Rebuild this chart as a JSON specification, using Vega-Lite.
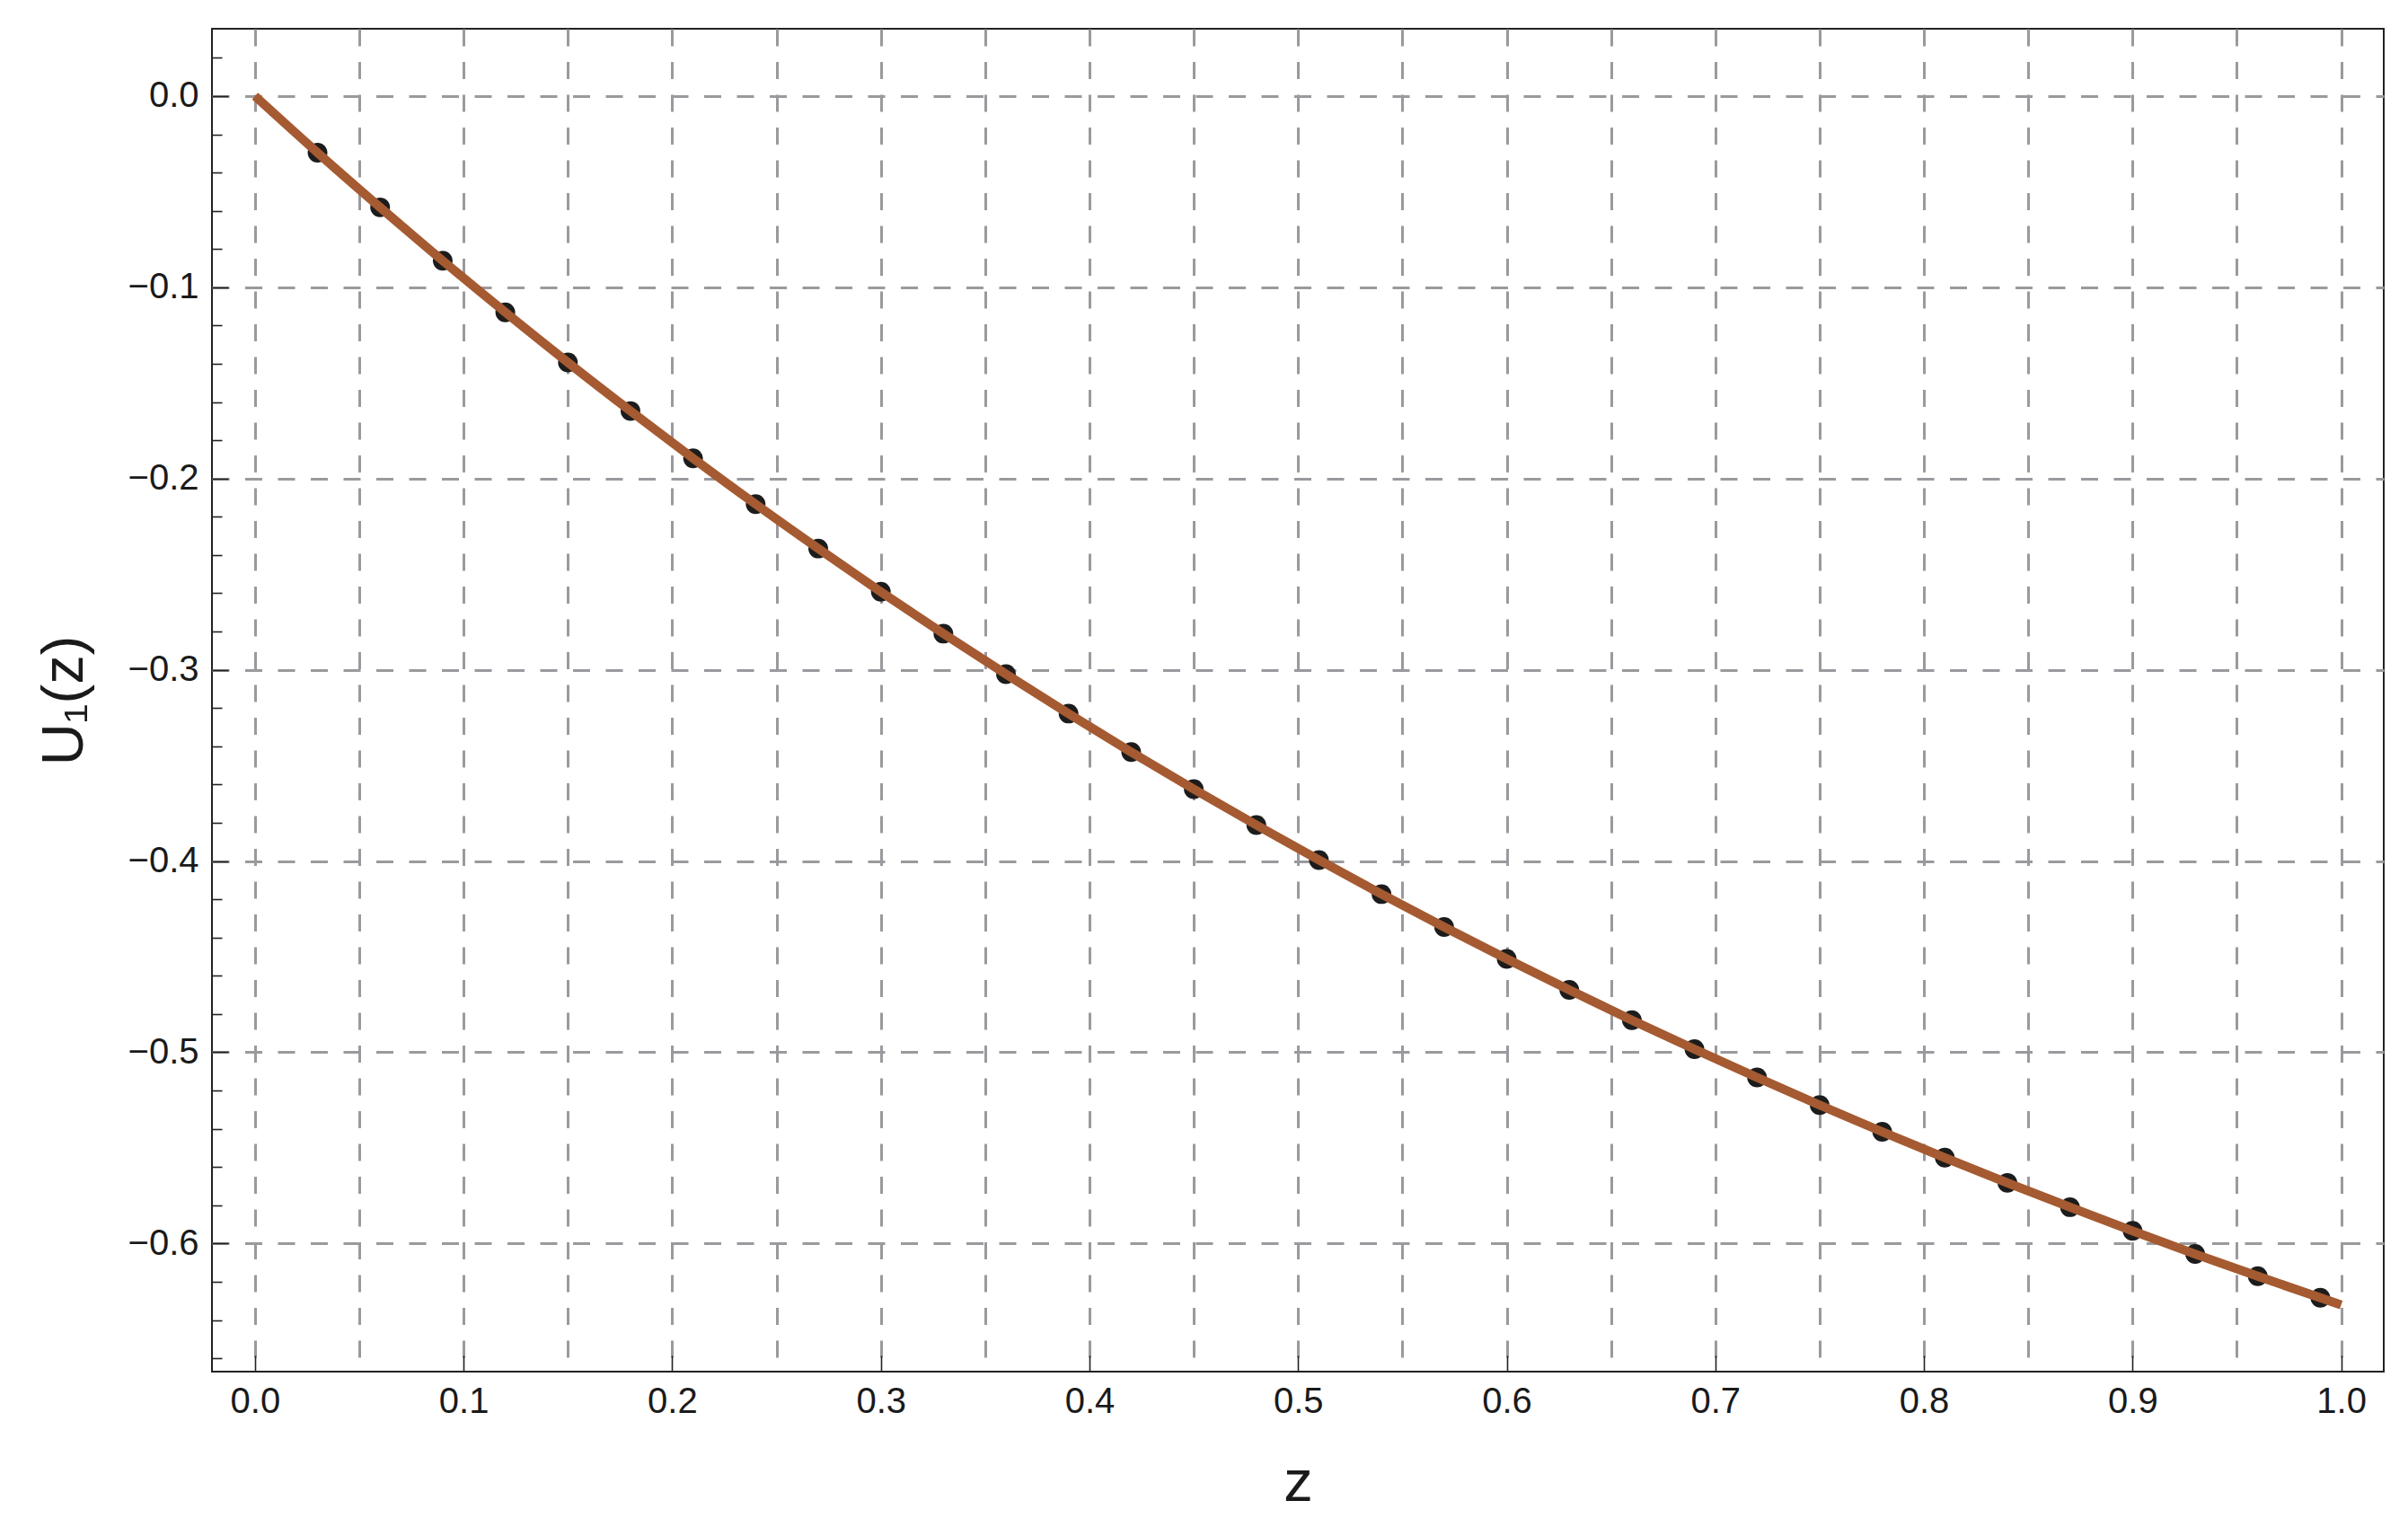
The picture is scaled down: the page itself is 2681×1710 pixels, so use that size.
{
  "$schema": "https://vega.github.io/schema/vega-lite/v6.json",
  "autosize": "none",
  "width": 2418,
  "height": 1495,
  "padding": {"left": 236, "top": 32, "right": 27, "bottom": 183},
  "background": "white",
  "datasets": {
    "dots": [
      {"z": 0.03, "u": -0.0296}, {"z": 0.06, "u": -0.0582}, {"z": 0.09, "u": -0.0861},
      {"z": 0.12, "u": -0.1131}, {"z": 0.15, "u": -0.1393}, {"z": 0.18, "u": -0.1647},
      {"z": 0.21, "u": -0.1894}, {"z": 0.24, "u": -0.2134}, {"z": 0.27, "u": -0.2366},
      {"z": 0.30, "u": -0.2592}, {"z": 0.33, "u": -0.2811}, {"z": 0.36, "u": -0.3023},
      {"z": 0.39, "u": -0.3229}, {"z": 0.42, "u": -0.3430}, {"z": 0.45, "u": -0.3624},
      {"z": 0.48, "u": -0.3812}, {"z": 0.51, "u": -0.3995}, {"z": 0.54, "u": -0.4173},
      {"z": 0.57, "u": -0.4345}, {"z": 0.60, "u": -0.4512}, {"z": 0.63, "u": -0.4674},
      {"z": 0.66, "u": -0.4832}, {"z": 0.69, "u": -0.4984}, {"z": 0.72, "u": -0.5132},
      {"z": 0.75, "u": -0.5276}, {"z": 0.78, "u": -0.5416}, {"z": 0.81, "u": -0.5551},
      {"z": 0.84, "u": -0.5683}, {"z": 0.87, "u": -0.5810}, {"z": 0.90, "u": -0.5934},
      {"z": 0.93, "u": -0.6055}, {"z": 0.96, "u": -0.6171}, {"z": 0.99, "u": -0.6284}
    ],
    "curve": [
      {"z": 0.0, "u": 0.0},
      {"z": 0.03, "u": -0.0296}, {"z": 0.06, "u": -0.0582}, {"z": 0.09, "u": -0.0861},
      {"z": 0.12, "u": -0.1131}, {"z": 0.15, "u": -0.1393}, {"z": 0.18, "u": -0.1647},
      {"z": 0.21, "u": -0.1894}, {"z": 0.24, "u": -0.2134}, {"z": 0.27, "u": -0.2366},
      {"z": 0.30, "u": -0.2592}, {"z": 0.33, "u": -0.2811}, {"z": 0.36, "u": -0.3023},
      {"z": 0.39, "u": -0.3229}, {"z": 0.42, "u": -0.3430}, {"z": 0.45, "u": -0.3624},
      {"z": 0.48, "u": -0.3812}, {"z": 0.51, "u": -0.3995}, {"z": 0.54, "u": -0.4173},
      {"z": 0.57, "u": -0.4345}, {"z": 0.60, "u": -0.4512}, {"z": 0.63, "u": -0.4674},
      {"z": 0.66, "u": -0.4832}, {"z": 0.69, "u": -0.4984}, {"z": 0.72, "u": -0.5132},
      {"z": 0.75, "u": -0.5276}, {"z": 0.78, "u": -0.5416}, {"z": 0.81, "u": -0.5551},
      {"z": 0.84, "u": -0.5683}, {"z": 0.87, "u": -0.5810}, {"z": 0.90, "u": -0.5934},
      {"z": 0.93, "u": -0.6055}, {"z": 0.96, "u": -0.6171}, {"z": 0.99, "u": -0.6284},
      {"z": 1.0, "u": -0.6321}
    ]
  },
  "layer": [
    {
      "data": {"name": "dots"},
      "mark": {"type": "point", "filled": true, "shape": "circle", "size": 480, "color": "#1c1c1c", "opacity": 1},
      "encoding": {
        "x": {
          "field": "z", "type": "quantitative",
          "scale": {"domain": [-0.0206, 1.0204], "nice": false, "zero": false},
          "axis": {
            "title": "z",
            "values": [0, 0.05, 0.1, 0.15, 0.2, 0.25, 0.3, 0.35, 0.4, 0.45, 0.5, 0.55, 0.6, 0.65, 0.7, 0.75, 0.8, 0.85, 0.9, 0.95, 1.0],
            "labelExpr": "abs(datum.value*10 - round(datum.value*10)) < 1e-6 ? format(datum.value, '.1f') : ''",
            "tickSize": {"condition": {"test": "abs(datum.value*10 - round(datum.value*10)) < 1e-6", "value": -18}, "value": 0},
            "labelPadding": 31,
            "titlePadding": 21
          }
        },
        "y": {
          "field": "u", "type": "quantitative",
          "scale": {"domain": [-0.667, 0.0352], "nice": false, "zero": false},
          "axis": {
            "title": "U₁(z)",
            "values": [-0.66, -0.64, -0.62, -0.6, -0.58, -0.56, -0.54, -0.52, -0.5, -0.48, -0.46, -0.44, -0.42, -0.4, -0.38, -0.36, -0.34, -0.32, -0.3, -0.28, -0.26, -0.24, -0.22, -0.2, -0.18, -0.16, -0.14, -0.12, -0.1, -0.08, -0.06, -0.04, -0.02, 0, 0.02],
            "labelExpr": "abs(datum.value*10 - round(datum.value*10)) < 1e-6 ? format(datum.value, '.1f') : ''",
            "tickSize": {"condition": {"test": "abs(datum.value*10 - round(datum.value*10)) < 1e-6", "value": -18}, "value": -11},
            "gridOpacity": {"condition": {"test": "abs(datum.value*10 - round(datum.value*10)) < 1e-6", "value": 1}, "value": 0},
            "labelPadding": 33,
            "titlePadding": 37
          }
        }
      }
    },
    {
      "data": {"name": "curve"},
      "mark": {"type": "line", "color": "#a55a31", "strokeWidth": 10, "interpolate": "monotone", "strokeCap": "butt"},
      "encoding": {
        "x": {"field": "z", "type": "quantitative"},
        "y": {"field": "u", "type": "quantitative"}
      }
    }
  ],
  "config": {
    "view": {"stroke": "#222222", "strokeWidth": 2},
    "axis": {
      "domain": false,
      "grid": true,
      "gridColor": "#9a9a9e",
      "gridWidth": 3,
      "gridDash": [19, 17.5],
      "gridOpacity": 1,
      "ticks": true,
      "tickColor": "#222222",
      "tickWidth": 1.6,
      "labelFont": "Liberation Sans",
      "labelFontSize": 40,
      "labelColor": "#1a1a1a",
      "labelOverlap": false,
      "labelFlush": false,
      "labelBound": false,
      "titleFont": "Liberation Sans",
      "titleFontSize": 65,
      "titleFontWeight": "normal",
      "titleColor": "#1a1a1a"
    }
  }
}
